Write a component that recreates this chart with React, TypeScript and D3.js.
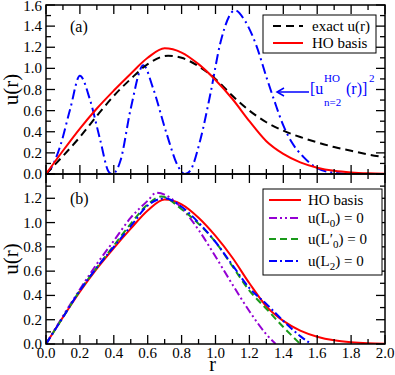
import * as d3 from "d3";

// r grid values, one list per curve
const exactR = [0, 0.1, 0.2, 0.3, 0.4, 0.5, 0.6, 0.72, 0.8, 0.9, 1.0, 1.1, 1.2, 1.3, 1.4, 1.5, 1.6, 1.7, 1.8, 1.9, 2.0];
const exactU = [0, 0.17, 0.35, 0.55, 0.74, 0.9, 1.04, 1.12, 1.1, 1.02, 0.9, 0.74, 0.6, 0.49, 0.41, 0.35, 0.3, 0.255, 0.22, 0.185, 0.158];

const hoR = [0, 0.1, 0.2, 0.3, 0.4, 0.5, 0.6, 0.7, 0.8, 0.9, 1.0, 1.1, 1.2, 1.3, 1.4, 1.5, 1.6, 1.7, 1.8, 1.9, 2.0];
const hoU = [0, 0.22, 0.43, 0.62, 0.79, 0.95, 1.1, 1.19, 1.15, 1.04, 0.89, 0.71, 0.5, 0.31, 0.19, 0.11, 0.06, 0.03, 0.014, 0.006, 0.003];

const sqR = [0, 0.024, 0.083, 0.142, 0.2, 0.26, 0.32, 0.37, 0.39, 0.41, 0.44, 0.5, 0.575, 0.63, 0.71, 0.78, 0.82, 0.85, 0.91, 0.97, 1.03, 1.115, 1.17, 1.24, 1.3, 1.35, 1.4, 1.45, 1.52, 1.6, 1.7, 1.8, 2.0];
const sqU = [0, 0.04, 0.26, 0.61, 0.93, 0.7, 0.32, 0.02, 0, 0.02, 0.13, 0.62, 1.03, 0.82, 0.39, 0.07, 0, 0.03, 0.32, 0.76, 1.25, 1.55, 1.46, 1.22, 0.92, 0.68, 0.46, 0.3, 0.16, 0.055, 0.012, 0, 0];

const l0R = [0, 0.1, 0.2, 0.3, 0.4, 0.5, 0.6, 0.65, 0.7, 0.8, 0.9, 1.0, 1.1, 1.2, 1.3, 1.355];
const l0U = [0, 0.23, 0.45, 0.66, 0.85, 1.04, 1.18, 1.245, 1.23, 1.12, 0.94, 0.72, 0.49, 0.27, 0.08, 0];

const l0pR = [0, 0.1, 0.2, 0.3, 0.4, 0.5, 0.6, 0.68, 0.8, 0.9, 1.0, 1.1, 1.2, 1.3, 1.4, 1.5];
const l0pU = [0, 0.22, 0.44, 0.63, 0.81, 0.99, 1.15, 1.215, 1.11, 0.99, 0.84, 0.64, 0.44, 0.29, 0.14, 0];

const l2R = [0, 0.1, 0.2, 0.3, 0.4, 0.5, 0.6, 0.7, 0.8, 0.9, 1.0, 1.1, 1.2, 1.3, 1.4, 1.5, 1.565];
const l2U = [0, 0.22, 0.44, 0.63, 0.8, 0.97, 1.14, 1.2, 1.13, 1.0, 0.84, 0.65, 0.46, 0.33, 0.19, 0.065, 0];

const xTickVals = [0, 0.2, 0.4, 0.6, 0.8, 1.0, 1.2, 1.4, 1.6, 1.8, 2.0];
const yTickValsA = [0, 0.2, 0.4, 0.6, 0.8, 1.0, 1.2, 1.4, 1.6];
const yTickValsB = [0, 0.2, 0.4, 0.6, 0.8, 1.0, 1.2];

const FONT = "'Liberation Serif', 'Times New Roman', Times, serif";
const W = 395;
const H = 375;
const left = 46;
const right = 385;

const x = d3.scaleLinear().domain([0, 2]).range([left, right]);
const yA = d3.scaleLinear().domain([0, 1.6]).range([174, 5]);
const yB = d3.scaleLinear().domain([0, 1.4]).range([344, 174]);
const fmt = d3.format(".1f");

const zip = (rs: number[], us: number[]) => rs.map((r, i) => [r, us[i]] as [number, number]);

function path(rs: number[], us: number[], y: d3.ScaleLinear<number, number>) {
  const gen = d3
    .line<[number, number]>()
    .x((d) => x(d[0]))
    .y((d) => y(d[1]))
    .curve(d3.curveMonotoneX);
  return gen(zip(rs, us)) || "";
}

function Frame({ y, showX, showY }: { y: d3.ScaleLinear<number, number>; showX: boolean; showY: number[] }) {
  const [y0, y1] = y.range();
  const major = 9;
  const minor = 5;
  const xMinor = x.ticks(20);
  const yMinor = y.ticks(Math.round((y.domain()[1] - y.domain()[0]) * 10));
  const isMajor = (v: number, step: number) => Math.abs(v / step - Math.round(v / step)) < 1e-6;
  return (
    <g stroke="#000" strokeWidth={1.3}>
      <rect x={left} y={y1} width={right - left} height={y0 - y1} fill="none" strokeWidth={1.5} />
      {xMinor.map((v) => {
        const len = isMajor(v, 0.2) ? major : minor;
        return (
          <g key={"x" + v}>
            <line x1={x(v)} x2={x(v)} y1={y0} y2={y0 - len} />
            <line x1={x(v)} x2={x(v)} y1={y1} y2={y1 + len} />
          </g>
        );
      })}
      {yMinor.map((v) => {
        const len = isMajor(v, 0.2) ? major : minor;
        return (
          <g key={"y" + v}>
            <line x1={left} x2={left + len} y1={y(v)} y2={y(v)} />
            <line x1={right} x2={right - len} y1={y(v)} y2={y(v)} />
          </g>
        );
      })}
      <g stroke="none" fill="#000" fontFamily={FONT} fontSize={15}>
        {showY.map((v) => (
          <text key={"ly" + v} x={left - 4} y={Math.max(y(v) + 5, 11)} textAnchor="end">
            {fmt(v)}
          </text>
        ))}
        {showX &&
          xTickVals.map((v) => (
            <text key={"lx" + v} x={x(v)} y={358} textAnchor="middle">
              {fmt(v)}
            </text>
          ))}
      </g>
    </g>
  );
}

export default function App() {
  return (
    <svg width={W} height={H} style={{ position: "absolute", left: 0, top: 0, background: "#fff" }}>
      <defs>
        <clipPath id="clipA">
          <rect x={left} y={5} width={right - left} height={169} />
        </clipPath>
        <clipPath id="clipB">
          <rect x={left} y={174} width={right - left} height={170} />
        </clipPath>
      </defs>

      {/* panel (a) */}
      <g clipPath="url(#clipA)" fill="none" strokeWidth={2}>
        <path d={path(sqR, sqU, yA)} stroke="#0000ff" strokeDasharray="10,4,2,4" />
        <path d={path(exactR, exactU, yA)} stroke="#000" strokeDasharray="8,5" />
        <path d={path(hoR, hoU, yA)} stroke="#ff0000" />
      </g>
      <Frame y={yA} showX={false} showY={yTickValsA} />

      {/* panel (b) */}
      <g clipPath="url(#clipB)" fill="none" strokeWidth={2}>
        <path d={path(hoR, hoU, yB)} stroke="#ff0000" />
        <path d={path(l0R, l0U, yB)} stroke="#9400d3" strokeDasharray="8,3,2,3,2,3" />
        <path d={path(l0pR, l0pU, yB)} stroke="#1a9a1a" strokeDasharray="7,4" />
        <path d={path(l2R, l2U, yB)} stroke="#0000ff" strokeDasharray="8,3,2,3" />
      </g>
      <Frame y={yB} showX={true} showY={yTickValsB} />

      {/* axis titles & panel tags */}
      <g fontFamily={FONT} fill="#000">
        <text transform={`translate(18,${(5 + 174) / 2}) rotate(-90)`} textAnchor="middle" fontSize={21}>
          u(r)
        </text>
        <text transform={`translate(18,${(174 + 344) / 2}) rotate(-90)`} textAnchor="middle" fontSize={21}>
          u(r)
        </text>
        <text x={(left + right) / 2 - 3} y={371} textAnchor="middle" fontSize={20}>
          r
        </text>
        <text x={70} y={32} fontSize={16}>(a)</text>
        <text x={70} y={204} fontSize={16}>(b)</text>
      </g>

      {/* legend (a) */}
      <g fontFamily={FONT} fontSize={15}>
        <rect x={263} y={15} width={113} height={38} fill="#fff" stroke="#000" strokeWidth={1} />
        <line x1={273} x2={303} y1={26} y2={26} stroke="#000" strokeWidth={2} strokeDasharray="8,5" />
        <text x={312} y={31}>exact u(r)</text>
        <line x1={273} x2={303} y1={43} y2={43} stroke="#ff0000" strokeWidth={2} />
        <text x={312} y={48}>HO basis</text>
      </g>

      {/* annotation for the squared HO state */}
      <g fill="#0000ff" fontFamily={FONT}>
        <line x1={309} x2={277} y1={92} y2={92} stroke="#0000ff" strokeWidth={1.5} />
        <path d="M284,88 L277,92 L284,96" fill="none" stroke="#0000ff" strokeWidth={1.5} />
        <text x={310} y={94} fontSize={16}>[u</text>
        <text x={324} y={82} fontSize={11}>HO</text>
        <text x={324} y={106} fontSize={11}>n=2</text>
        <text x={346} y={94} fontSize={16}>(r)]</text>
        <text x={369} y={82} fontSize={11}>2</text>
      </g>

      {/* legend (b) */}
      <g fontFamily={FONT} fontSize={15}>
        <rect x={263} y={189} width={119} height={86} fill="#fff" stroke="#000" strokeWidth={1} />
        <line x1={269} x2={301} y1={200} y2={200} stroke="#ff0000" strokeWidth={2} />
        <text x={308} y={205}>HO basis</text>
        <line x1={269} x2={301} y1={218} y2={218} stroke="#9400d3" strokeWidth={2} strokeDasharray="8,3,2,3,2,3" />
        <text x={308} y={223}>
          u(L<tspan fontSize={11} dy={4}>0</tspan>
          <tspan dy={-4}>) = 0</tspan>
        </text>
        <line x1={269} x2={301} y1={239} y2={239} stroke="#1a9a1a" strokeWidth={2} strokeDasharray="7,4" />
        <text x={308} y={244}>
          u(L′<tspan fontSize={11} dy={4}>0</tspan>
          <tspan dy={-4}>) = 0</tspan>
        </text>
        <line x1={269} x2={301} y1={261} y2={261} stroke="#0000ff" strokeWidth={2} strokeDasharray="8,3,2,3" />
        <text x={308} y={266}>
          u(L<tspan fontSize={11} dy={4}>2</tspan>
          <tspan dy={-4}>) = 0</tspan>
        </text>
      </g>
    </svg>
  );
}
